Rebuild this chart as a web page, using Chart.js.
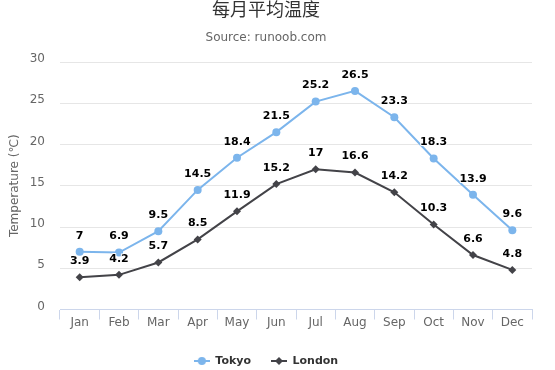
<!DOCTYPE html>
<html>
<head>
<meta charset="utf-8">
<script src="https://cdn.jsdelivr.net/npm/chart.js@4.4.1/dist/chart.umd.min.js"></script>
<style>
  html, body { margin: 0; padding: 0; background: #ffffff; }
  #wrap { width: 555px; height: 370px; }
</style>
</head>
<body>
<div id="wrap"><canvas id="c" width="555" height="370"></canvas></div>
<script>
const categories = ['Jan', 'Feb', 'Mar', 'Apr', 'May', 'Jun', 'Jul', 'Aug', 'Sep', 'Oct', 'Nov', 'Dec'];
const tokyo = [7.0, 6.9, 9.5, 14.5, 18.4, 21.5, 25.2, 26.5, 23.3, 18.3, 13.9, 9.6];
const london = [3.9, 4.2, 5.7, 8.5, 11.9, 15.2, 17.0, 16.6, 14.2, 10.3, 6.6, 4.8];
const seriesNames = ['Tokyo', 'London'];
const yTicks = [0, 5, 10, 15, 20, 25, 30];
const titleText = '每月平均温度';
const subtitleText = 'Source: runoob.com';
const yTitleText = 'Temperature (℃)';

const FONT = '"DejaVu Sans", Verdana, sans-serif';
Chart.defaults.font.family = FONT;

function makeIcon(color, shape) {
  const c = document.createElement('canvas');
  c.width = 16; c.height = 10;
  const g = c.getContext('2d');
  g.strokeStyle = color; g.lineWidth = 2;
  g.beginPath(); g.moveTo(0, 5); g.lineTo(16, 5); g.stroke();
  g.fillStyle = color;
  g.beginPath();
  if (shape === 'circle') {
    g.arc(8, 5, 4, 0, Math.PI * 2);
  } else {
    g.moveTo(8, 1); g.lineTo(12, 5); g.lineTo(8, 9); g.lineTo(4, 5); g.closePath();
  }
  g.fill();
  return c;
}
const legendIcons = [makeIcon('#7cb5ec', 'circle'), makeIcon('#434348', 'diamond')];

const valueLabels = {
  id: 'valueLabels',
  afterDatasetsDraw(chart) {
    const ctx = chart.ctx;
    ctx.save();
    ctx.font = 'bold 11px ' + FONT;
    ctx.textAlign = 'center';
    ctx.textBaseline = 'middle';
    ctx.lineJoin = 'round';
    chart.data.datasets.forEach((ds, i) => {
      const meta = chart.getDatasetMeta(i);
      meta.data.forEach((pt, j) => {
        const txt = String(ds.data[j]);
        const x = pt.x, y = pt.y - 16;
        ctx.strokeStyle = '#ffffff';
        ctx.lineWidth = 2;
        ctx.strokeText(txt, x, y);
        ctx.fillStyle = '#000000';
        ctx.fillText(txt, x, y);
      });
    });
    ctx.restore();
  }
};

new Chart(document.getElementById('c'), {
  type: 'line',
  data: {
    labels: categories,
    datasets: [
      {
        label: seriesNames[0],
        data: tokyo,
        borderColor: '#7cb5ec',
        backgroundColor: '#7cb5ec',
        pointBackgroundColor: '#7cb5ec',
        borderWidth: 2,
        pointRadius: 4,
        pointBorderWidth: 0,
        pointStyle: 'circle',
        tension: 0,
        fill: false
      },
      {
        label: seriesNames[1],
        data: london,
        borderColor: '#434348',
        backgroundColor: '#434348',
        pointBackgroundColor: '#434348',
        borderWidth: 2,
        pointRadius: 4,
        pointBorderWidth: 0,
        pointStyle: 'rectRot',
        tension: 0,
        fill: false
      }
    ]
  },
  options: {
    responsive: false,
    animation: false,
    events: [],
    devicePixelRatio: 1,
    layout: { padding: { left: 0, right: 23, top: 0, bottom: 0 } },
    plugins: {
      tooltip: { enabled: false },
      title: {
        display: true,
        text: titleText,
        color: '#333333',
        font: { family: '"Noto Sans CJK SC", sans-serif', size: 18, weight: 'normal', lineHeight: 1 },
        padding: { top: 0, bottom: 6 }
      },
      subtitle: {
        display: true,
        text: subtitleText,
        color: '#666666',
        font: { family: FONT, size: 12, weight: 'normal', lineHeight: 1.2 },
        padding: { top: 6.8, bottom: 16.8 }
      },
      legend: {
        display: true,
        position: 'bottom',
        maxHeight: 34.5,
        labels: {
          usePointStyle: true,
          pointStyleWidth: 16,
          padding: 20,
          color: '#333333',
          font: { family: FONT, size: 11, weight: 'bold' },
          generateLabels(chart) {
            const items = Chart.defaults.plugins.legend.labels.generateLabels(chart);
            items.forEach((it, i) => { it.pointStyle = legendIcons[i]; });
            return items;
          }
        }
      }
    },
    scales: {
      x: {
        type: 'category',
        offset: true,
        afterFit(scale) { scale.height = 26; },
        grid: {
          offset: true,
          drawOnChartArea: false,
          drawTicks: true,
          tickLength: 10,
          color: '#ccd6eb'
        },
        border: { display: true, color: '#ccd6eb', width: 1 },
        ticks: {
          color: '#666666',
          font: { family: FONT, size: 12 },
          padding: -4,
          maxRotation: 0,
          autoSkip: false
        }
      },
      y: {
        min: 0,
        max: 30,
        afterFit(scale) { scale.width = 60; },
        afterBuildTicks(scale) { scale.ticks = yTicks.map(v => ({ value: v })); },
        grid: {
          color: '#e6e6e6',
          lineWidth: 1,
          drawTicks: false
        },
        border: { display: false },
        ticks: {
          color: '#666666',
          font: { family: FONT, size: 12 },
          padding: 15,
          labelOffset: -3
        },
        title: {
          display: true,
          text: yTitleText,
          color: '#666666',
          font: { family: FONT, size: 12, weight: 'normal' },
          padding: { top: 8, bottom: 0 }
        }
      }
    }
  },
  plugins: [valueLabels]
});
</script>
</body>
</html>
